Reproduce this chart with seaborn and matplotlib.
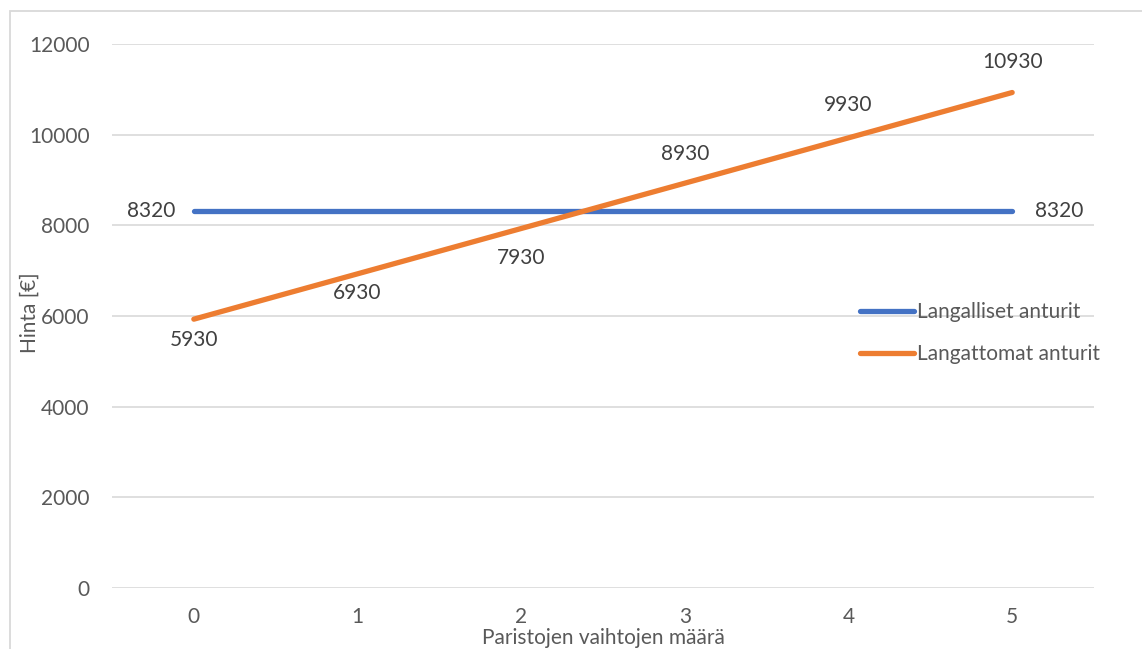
import numpy as np
import pandas as pd
import matplotlib
matplotlib.use("Agg")
import matplotlib.pyplot as plt
import seaborn as sns
from matplotlib.patches import Rectangle

# Chart data
swaps = [0, 1, 2, 3, 4, 5]
wired = [8320, 8320, 8320, 8320, 8320, 8320]
wireless = [5930, 6930, 7930, 8930, 9930, 10930]
series_names = ["Langalliset anturit", "Langattomat anturit"]
y_ticks = [0, 2000, 4000, 6000, 8000, 10000, 12000]

# vertical offsets (pixels, positive = down) of the wireless value labels
wireless_label_dy = [21, 19, 29, -29, -33, -31]

BLUE = "#4472C4"
ORANGE = "#ED7D31"
TEXT = "#595959"
LABEL = "#404040"
GRID = "#D9D9D9"
W, H = 1142, 649

sns.set_theme(style="white")
plt.rcParams["font.family"] = ["Lato", "DejaVu Sans"]

df = pd.DataFrame({
    "x": swaps * 2,
    "y": wired + wireless,
    "series": [series_names[0]] * len(swaps) + [series_names[1]] * len(swaps),
})

fig = plt.figure(figsize=(W / 100, H / 100), dpi=100)
ax = fig.add_axes([112 / W, 1 - 588 / H, (1094 - 112) / W, (588 - 44) / H])

sns.lineplot(data=df, x="x", y="y", hue="series", palette=[BLUE, ORANGE],
             linewidth=3.8, ax=ax, legend=True, solid_capstyle="round")

ax.set_xlim(-0.5, 5.5)
ax.set_ylim(0, 12000)
ax.set_yticks(y_ticks)
ax.set_xticks(swaps)
ax.set_yticklabels([str(v) for v in y_ticks])
ax.set_xticklabels([str(v) for v in swaps])
ax.tick_params(axis="both", length=0, labelsize=15, colors=TEXT)
ax.tick_params(axis="y", pad=16)
ax.tick_params(axis="x", pad=14)
ax.grid(axis="y", color=GRID, linewidth=1.2)
ax.set_axisbelow(True)
for s in ax.spines.values():
    s.set_visible(False)

ax.set_xlabel("Paristojen vaihtojen määrä", fontsize=15, color=TEXT, va="center")
ax.xaxis.set_label_coords(0.5, -(638 - 588) / 544)
ax.set_ylabel("")
fig.text(30 / W, 1 - 313 / H, "Hinta [€]", rotation=90, fontsize=15, color=TEXT,
         ha="center", va="center")

# Data labels
px = 0.72  # points per pixel at 100 dpi
lab = dict(fontsize=15, color=LABEL)
ax.annotate(str(wired[0]), (swaps[0], wired[0]), xytext=(-18 * px, 0), textcoords="offset points",
            ha="right", va="center", **lab)
ax.annotate(str(wired[-1]), (swaps[-1], wired[-1]), xytext=(23 * px, 0), textcoords="offset points",
            ha="left", va="center", **lab)
for xv, yv, dy in zip(swaps, wireless, wireless_label_dy):
    ax.annotate(str(yv), (xv, yv), xytext=(0, -dy * px), textcoords="offset points",
                ha="center", va="center", **lab)

leg = ax.legend(loc="center left", bbox_to_anchor=((860 - 112) / 982, 1 - (333 - 44) / 544),
                frameon=False, fontsize=15, labelcolor=TEXT, handlelength=2.6,
                handletextpad=0.15, labelspacing=1.05, borderaxespad=0, borderpad=0)
for h in leg.get_lines():
    h.set_linewidth(3.8)
    h.set_solid_capstyle("round")

# Chart border
fig.patches.append(Rectangle((9.5 / W, -0.1), 1.2, 1 - 10.5 / H + 0.1,
                             transform=fig.transFigure, fill=False,
                             edgecolor=GRID, linewidth=1.3))

fig.savefig("out.png", dpi=100)
